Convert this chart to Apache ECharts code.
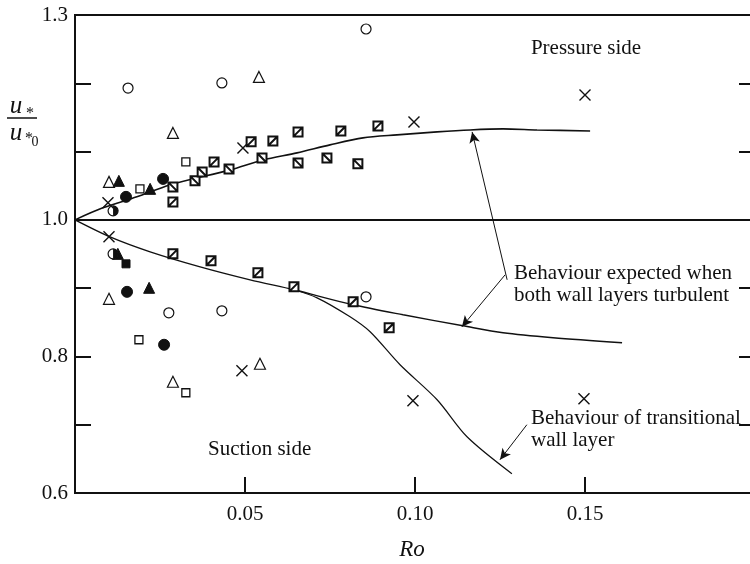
<!DOCTYPE html>
<html>
<head>
<meta charset="utf-8">
<script src="https://cdn.jsdelivr.net/npm/echarts@6/dist/echarts.min.js"></script>
<style>html,body{margin:0;padding:0;background:#fff}#c{width:750px;height:564px}</style>
</head>
<body>
<div id="c"></div>
<script>
// ---- data (Ro, u*/u*0) ----
const xTickLabels = ['0.05', '0.10', '0.15'];
const yTickLabels = ['0.6', '0.8', '1.0', '1.3'];

const openCircle = [[0.0156,1.193],[0.0432,1.2005],[0.0856,1.2795],[0.0856,0.8873],[0.0276,0.8639],[0.0432,0.8668]];
const openTriangle = [[0.0541,1.2093],[0.0288,1.1273],[0.0100,1.0556],[0.0100,0.8844],[0.0544,0.7893],[0.0288,0.7629]];
const filledTriangle = [[0.0129,1.0571],[0.0221,1.0454],[0.0126,0.9502],[0.0218,0.9005]];
const filledCircle = [[0.0150,1.0337],[0.0259,1.0600],[0.0153,0.8946],[0.0262,0.8171]];
const halfCircle = [[0.0112,1.0132],[0.0112,0.9502]];
const filledSquare = [[0.0150,0.9356]];
const openSquare = [[0.0326,1.0849],[0.0191,1.0454],[0.0188,0.8244],[0.0326,0.7468]];
const crosses = [[0.0494,1.1054],[0.0997,1.1434],[0.1500,1.1829],[0.0097,1.0249],[0.0100,0.9751],[0.0491,0.7790],[0.0994,0.7351],[0.1497,0.7380]];
const squareSlash = [[0.0518,1.1142],[0.0582,1.1156],[0.0656,1.1288],[0.0782,1.1302],[0.0891,1.1376],[0.0409,1.0849],[0.0288,1.0263],[0.0288,0.9502],[0.0400,0.9400],[0.0538,0.9224],[0.0644,0.9019],[0.0818,0.8800],[0.0924,0.8419]];
const squareBackslash = [[0.0288,1.0483],[0.0353,1.0571],[0.0374,1.0702],[0.0453,1.0746],[0.0550,1.0907],[0.0656,1.0834],[0.0741,1.0907],[0.0832,1.0820]];

const upperTurbulent = [[0,1.0],[0.0082,1.0176],[0.0182,1.0337],[0.0279,1.0512],[0.0456,1.0732],[0.0553,1.0878],[0.0653,1.0981],[0.0750,1.1098],[0.0847,1.1200],[0.0947,1.1244],[0.1065,1.1288],[0.1162,1.1317],[0.1259,1.1332],[0.1359,1.1317],[0.1515,1.1302]];
const lowerTurbulent = [[0,1.0],[0.0103,0.9751],[0.0221,0.9532],[0.0368,0.9312],[0.0515,0.9122],[0.0644,0.8976],[0.0818,0.8756],[0.0965,0.8610],[0.1141,0.8449],[0.1259,0.8346],[0.1406,0.8273],[0.1609,0.8200]];
const transitional = [[0.0644,0.8976],[0.0712,0.8858],[0.0809,0.8580],[0.0868,0.8361],[0.0956,0.7878],[0.1065,0.7366],[0.1153,0.6824],[0.1285,0.6283]];

// annotation arrows (from text to curve), data coords
const arrows = [
  [[0.1271,0.9122],[0.1168,1.1288]],
  [[0.1265,0.9195],[0.1138,0.8434]],
  [[0.1329,0.7000],[0.1250,0.6488]]
];

// ---- styling ----
const INK = '#111';
const SERIF = '"Liberation Serif", "DejaVu Serif", serif';
const sqSlashPath = 'path://M0,0 L10,0 L10,10 L0,10 Z M0,10 L10,0';
const sqBackPath = 'path://M0,0 L10,0 L10,10 L0,10 Z M0,0 L10,10';
const crossPath = 'path://M0,0 L10,10 M10,0 L0,10';
const halfDiscPath = 'path://M0,0 M10,10 M5,0 A5,5 0 0 1 5,10 Z';

function scatter(data, symbol, size, fill, bw) {
  return {
    type: 'scatter', data: data, symbol: symbol, symbolSize: size,
    itemStyle: { color: fill, borderColor: INK, borderWidth: bw, opacity: 1 },
    z: 5, silent: true
  };
}
function curve(data, w) {
  return {
    type: 'line', data: data, showSymbol: false, symbol: 'none', smooth: 0.3,
    lineStyle: { color: INK, width: w }, z: 3, silent: true
  };
}

const chart = echarts.init(document.getElementById('c'), null, { renderer: 'canvas' });
chart.setOption({
  animation: false,
  backgroundColor: '#fff',
  grid: { left: 75, top: 15, width: 680, height: 478, outerBoundsMode: 'none', containLabel: false, show: true, borderColor: INK, borderWidth: 2, backgroundColor: 'transparent' },
  xAxis: {
    type: 'value', min: 0, max: 0.2, interval: 0.05,
    axisLine: { show: true, lineStyle: { color: INK, width: 2 } },
    axisTick: { show: true, inside: true, length: 16, lineStyle: { color: INK, width: 2 } },
    splitLine: { show: false },
    axisLabel: {
      color: INK, fontFamily: SERIF, fontSize: 21, margin: 11,
      formatter: v => { const s = v.toFixed(2); return xTickLabels.indexOf(s) >= 0 ? s : ''; }
    }
  },
  yAxis: [{
    type: 'value', min: 0.6, max: 1.3, interval: 0.1,
    axisLine: { show: true, lineStyle: { color: INK, width: 2 } },
    axisTick: { show: true, inside: true, length: 16, lineStyle: { color: INK, width: 2 } },
    splitLine: { show: false },
    axisLabel: {
      color: INK, fontFamily: SERIF, fontSize: 21, margin: 7,
      formatter: v => { const s = v.toFixed(1); return yTickLabels.indexOf(s) >= 0 ? s : ''; }
    }
  }, {
    type: 'value', min: 0.6, max: 1.3, interval: 0.1, position: 'right',
    axisLine: { show: true, lineStyle: { color: INK, width: 2 } },
    axisTick: { show: true, inside: true, length: 16, lineStyle: { color: INK, width: 2 } },
    splitLine: { show: false }, axisLabel: { show: false }
  }],
  series: [
    Object.assign(curve(upperTurbulent, 1.6), {
      markLine: {
        silent: true, symbol: 'none', label: { show: false },
        lineStyle: { color: INK, width: 2, type: 'solid' },
        data: [{ yAxis: 1.0 }]
      }
    }),
    Object.assign(curve(lowerTurbulent, 1.4), {
      markLine: {
        silent: true, symbol: ['none', 'arrow'], symbolSize: [8, 11], label: { show: false },
        lineStyle: { color: INK, width: 1, type: 'solid' },
        data: arrows.map(a => [{ coord: a[0] }, { coord: a[1] }])
      }
    }),
    curve(transitional, 1.2),
    scatter(openCircle, 'circle', 10, '#fff', 1.2),
    scatter(openTriangle, 'triangle', 11, '#fff', 1.2),
    scatter(filledTriangle, 'triangle', 11, INK, 1),
    scatter(filledCircle, 'circle', 11, INK, 1),
    scatter(halfCircle, 'circle', 10, '#fff', 1.2),
    scatter(halfCircle, halfDiscPath, 10, INK, 0),
    scatter(filledSquare, 'rect', 8, INK, 1),
    scatter(openSquare, 'rect', 8, '#fff', 1.3),
    scatter(crosses, crossPath, 11, 'transparent', 1.4),
    scatter(squareSlash, sqSlashPath, 9, '#fff', 2),
    scatter(squareBackslash, sqBackPath, 9, '#fff', 2)
  ],
  graphic: [
    { type: 'text', x: 586, y: 48, silent: true, style: { text: 'Pressure side', fill: INK, font: '21px ' + SERIF, align: 'center', verticalAlign: 'middle' } },
    { type: 'text', x: 208, y: 449, silent: true, style: { text: 'Suction side', fill: INK, font: '21px ' + SERIF, align: 'left', verticalAlign: 'middle' } },
    { type: 'text', x: 514, y: 262, silent: true, style: { text: 'Behaviour expected when\nboth wall layers turbulent', fill: INK, font: '21px ' + SERIF, lineHeight: 22, align: 'left', verticalAlign: 'top' } },
    { type: 'text', x: 531, y: 407, silent: true, style: { text: 'Behaviour of transitional\nwall layer', fill: INK, font: '21px ' + SERIF, lineHeight: 22, align: 'left', verticalAlign: 'top' } },
    { type: 'text', x: 412, y: 550, silent: true, style: { text: 'Ro', fill: INK, font: 'italic 23px ' + SERIF, align: 'center', verticalAlign: 'middle' } },
    { type: 'text', x: 16, y: 106, silent: true, style: { text: 'u', fill: INK, font: 'italic 25px ' + SERIF, align: 'center', verticalAlign: 'middle' } },
    { type: 'text', x: 30, y: 114, silent: true, style: { text: '*', fill: INK, font: '16px ' + SERIF, align: 'center', verticalAlign: 'middle' } },
    { type: 'line', silent: true, shape: { x1: 7, y1: 118, x2: 37, y2: 118 }, style: { stroke: INK, lineWidth: 1.5 } },
    { type: 'text', x: 16, y: 133, silent: true, style: { text: 'u', fill: INK, font: 'italic 25px ' + SERIF, align: 'center', verticalAlign: 'middle' } },
    { type: 'text', x: 29, y: 139, silent: true, style: { text: '*', fill: INK, font: '16px ' + SERIF, align: 'center', verticalAlign: 'middle' } },
    { type: 'text', x: 35, y: 142, silent: true, style: { text: '0', fill: INK, font: '14px ' + SERIF, align: 'center', verticalAlign: 'middle' } }
  ]
});
</script>
</body>
</html>
